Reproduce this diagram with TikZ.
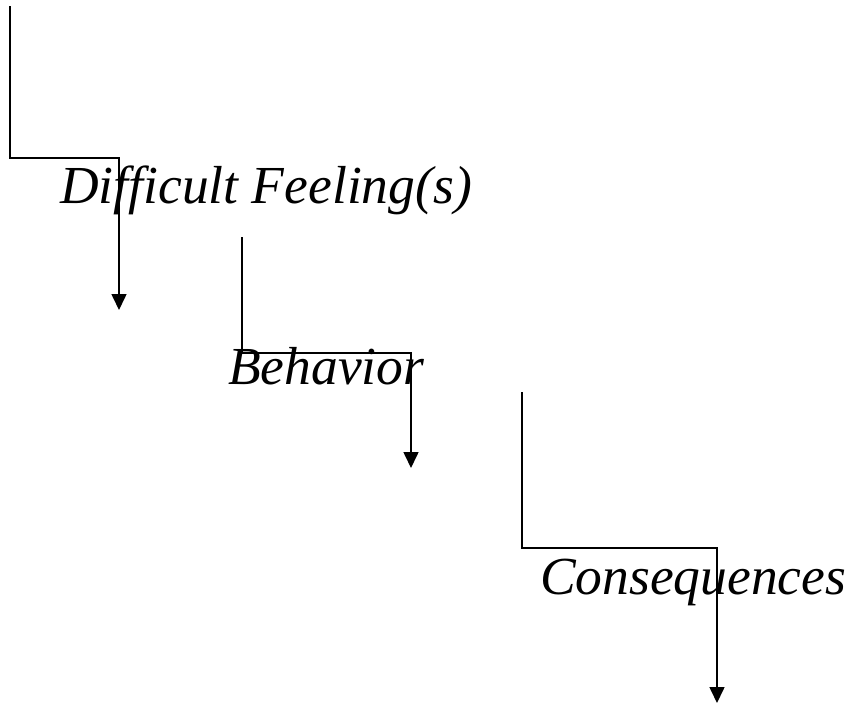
\documentclass[tikz,border=0pt]{standalone}
\usepackage{fontspec}
\setmainfont{Liberation Serif}
\usetikzlibrary{arrows.meta}
\tikzset{
  flow/.style={line width=1.6pt, -{Triangle[width=15pt,length=16pt]}},
  lbl/.style={anchor=base west, inner sep=0pt, font=\fontsize{53.5}{60}\selectfont\itshape}
}
\begin{document}
\begin{tikzpicture}[x=1pt,y=-1pt]
\useasboundingbox (0,0) rectangle (852,704);
% connectors
\coordinate (a0) at (10,6);
\coordinate (a1) at (10,158);
\coordinate (a2) at (119,158);
\coordinate (a3) at (119,310);
\coordinate (b0) at (242,237);
\coordinate (b1) at (242,353);
\coordinate (b2) at (411,353);
\coordinate (b3) at (411,468);
\coordinate (c0) at (522,392);
\coordinate (c1) at (522,548);
\coordinate (c2) at (717,548);
\coordinate (c3) at (717,703);
\draw[flow] (a0) -- (a1) -- (a2) -- (a3);
\draw[flow] (b0) -- (b1) -- (b2) -- (b3);
\draw[flow] (c0) -- (c1) -- (c2) -- (c3);
% labels
\node[lbl] (feel) at (60,203) {Difficult Feeling(s)};
\node[lbl] (beh) at (228,384) {Behavior};
\node[lbl] (cons) at (540,594) {Consequences};
\end{tikzpicture}
\end{document}
